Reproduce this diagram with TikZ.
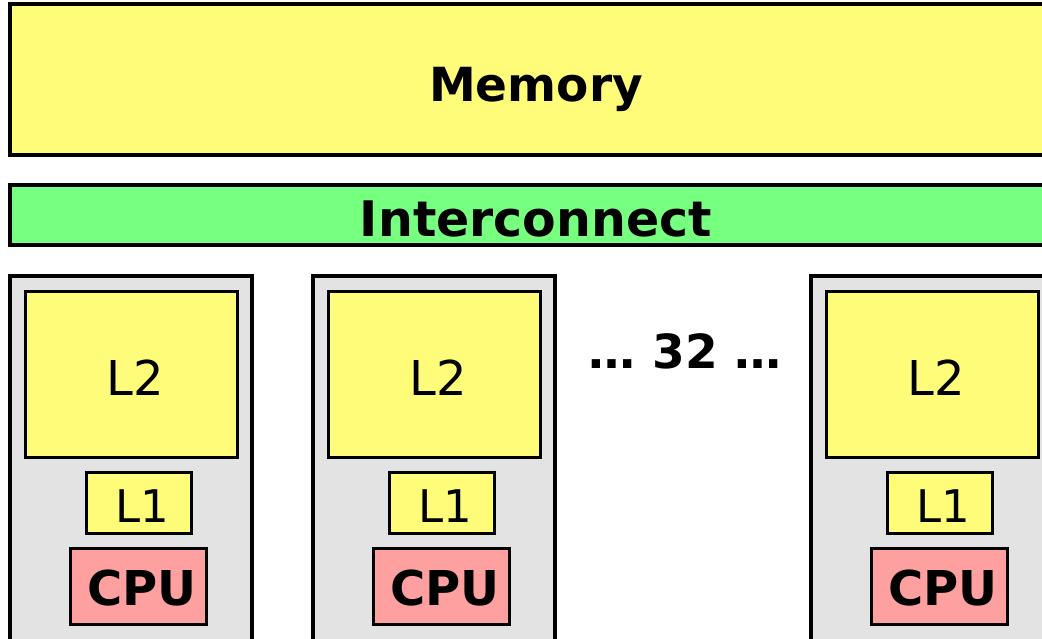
\documentclass[tikz,border=0pt]{standalone}
\usepackage{fontspec}
\setmainfont{DejaVu Sans}
\usetikzlibrary{calc}
\definecolor{memyellow}{RGB}{255,252,122}
\definecolor{icgreen}{RGB}{119,255,127}
\definecolor{procgray}{RGB}{227,227,227}
\definecolor{cpupink}{RGB}{255,160,160}
\begin{document}
\begin{tikzpicture}[x=1pt,y=-1pt,
  box/.style={draw=black,anchor=north west,inner sep=0pt,outer sep=0pt},
  lbl/.style={anchor=base,inner sep=0pt},
  bigfont/.style={font=\fontsize{47}{56}\selectfont\bfseries},
  memstyle/.style={box,fill=memyellow,line width=3.5pt},
  icstyle/.style={box,fill=icgreen,line width=3.5pt},
  procstyle/.style={box,fill=procgray,line width=3.2pt,minimum width=242pt,minimum height=400pt},
  ltwostyle/.style={box,fill=memyellow,line width=3pt,minimum width=212pt,minimum height=166pt},
  lonestyle/.style={box,fill=memyellow,line width=3pt,minimum width=105pt,minimum height=61pt},
  cpustyle/.style={box,fill=cpupink,line width=3pt,minimum width=136pt,minimum height=76pt},
  ltwofont/.style={lbl,font=\fontsize{48}{56}\selectfont},
  lonefont/.style={lbl,font=\fontsize{45}{56}\selectfont},
  cpufont/.style={lbl,font=\fontsize{48}{56}\selectfont\bfseries}
]
\useasboundingbox (0,0) rectangle (1042,638);
\fill[white] (0,0) rectangle (1042,638);
\clip (0,0) rectangle (1042,638);
\node[memstyle,minimum width=1052pt,minimum height=151pt] (mem) at (10,4) {};
\node[lbl,bigfont] (memtext) at (536,101) {Memory};
\node[icstyle,minimum width=1052pt,minimum height=60pt] (ic) at (10,185) {};
\node[lbl,font=\fontsize{49}{56}\selectfont\bfseries] (ictext) at (536,236) {Interconnect};
\foreach \i/\x in {a/10,b/313,c/811}{
  \node[procstyle] (p\i) at (\x,276) {};
  \node[ltwostyle] (ltwo\i) at ($(\x,291)+(15,0)$) {};
  \node[ltwofont] (ltwotext\i) at ($(\x,395)+(125,0)$) {L2};
  \node[lonestyle] (lone\i) at ($(\x,472)+(76,0)$) {};
  \node[lonefont] (lonetext\i) at ($(\x,522)+(132,0)$) {L1};
  \node[cpustyle] (cpu\i) at ($(\x,548)+(60,0)$) {};
  \node[cpufont] (cputext\i) at ($(\x,605)+(132,0)$) {CPU};
}
\node[lbl,font=\fontsize{47}{56}\selectfont\bfseries] (dots) at (685,368) {… 32 …};
\end{tikzpicture}
\end{document}
